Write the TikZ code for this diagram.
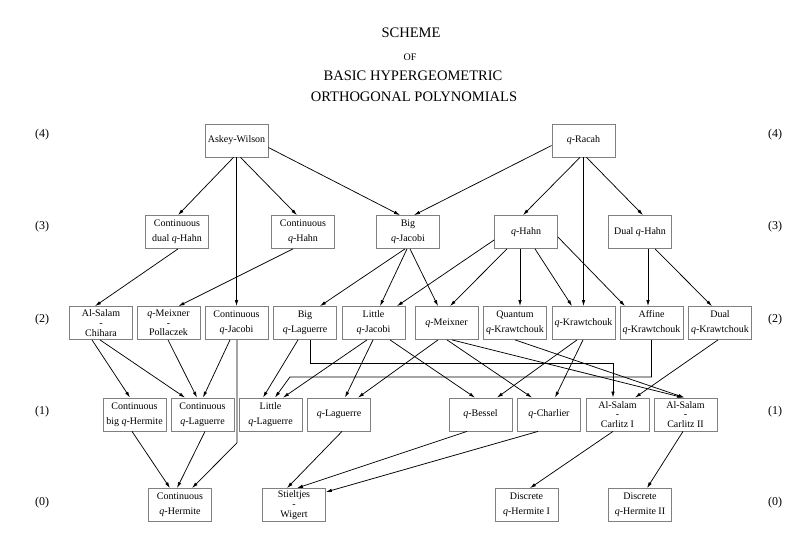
\documentclass[tikz,border=0pt]{standalone}
\usepackage{fontspec}
\setmainfont{Liberation Serif}
\usetikzlibrary{arrows.meta,calc}

\tikzset{every picture/.style={line width=0.75pt}}
\tikzset{
  famBox/.style={draw=gray, line width=0.6pt, minimum width=47.25pt, minimum height=24.75pt, inner sep=1pt, align=center, font=\fontsize{7.5}{11.25}\selectfont},
  levelLabel/.style={inner sep=0pt, font=\fontsize{9}{10}\selectfont},
  titleLine/.style={inner sep=0pt, font=\fontsize{10.9}{12}\selectfont},
  limitArrow/.style={line width=0.55pt, -{Latex[length=4.5pt,width=2.6pt]}},
}
\newcommand{\qvar}{\textit{q}}

\begin{document}
\begin{tikzpicture}[x=0.75pt,y=0.75pt,yscale=-1,xscale=1]
%set diagram left start at 0, and has height of 539
\path [fill=white] (0,0) rectangle (806,539);
\useasboundingbox (0,0) rectangle (806,539);

% Title
\node [titleLine] (tscheme) at (411,33) {SCHEME};
\node [inner sep=0pt, font=\fontsize{7.5}{8}\selectfont] (tof) at (410,57) {OF};
\node [titleLine] (tbasic) at (413,76) {BASIC HYPERGEOMETRIC};
\node [titleLine] (tortho) at (414,97) {ORTHOGONAL POLYNOMIALS};

% Level labels
\node [levelLabel] (lleft4) at (42,135) {(4)};
\node [levelLabel] (lleft3) at (42,227) {(3)};
\node [levelLabel] (lleft2) at (42,320) {(2)};
\node [levelLabel] (lleft1) at (42,412) {(1)};
\node [levelLabel] (lleft0) at (42,503) {(0)};
\node [levelLabel] (lright4) at (775,135) {(4)};
\node [levelLabel] (lright3) at (775,227) {(3)};
\node [levelLabel] (lright2) at (775,320) {(2)};
\node [levelLabel] (lright1) at (775,412) {(1)};
\node [levelLabel] (lright0) at (775,503) {(0)};

% Level 4
\node [famBox] (askeywilson) at (236.5,140.5) {Askey-Wilson};
\node [famBox] (qracah) at (583.5,140.5) {\qvar-Racah};

% Level 3
\node [famBox] (contdualqhahn) at (177,232) {Continuous\\dual \qvar-Hahn};
\node [famBox] (contqhahn) at (303,232) {Continuous\\\qvar-Hahn};
\node [famBox] (bigqjacobi) at (408,232) {Big\\\qvar-Jacobi};
\node [famBox] (qhahn) at (526,232) {\qvar-Hahn};
\node [famBox] (dualqhahn) at (640,232) {Dual \qvar-Hahn};

% Level 2
\node [famBox] (alsalamchihara) at (101,323) {Al-Salam\\[-4pt]-\\[-4pt]Chihara};
\node [famBox] (qmeixnerpollaczek) at (168.5,323) {\qvar-Meixner\\[-4pt]-\\[-4pt]Pollaczek};
\node [famBox] (contqjacobi) at (236.5,323) {Continuous\\\qvar-Jacobi};
\node [famBox] (bigqlaguerre) at (305,323) {Big\\\qvar-Laguerre};
\node [famBox] (littleqjacobi) at (373.5,323) {Little\\\qvar-Jacobi};
\node [famBox] (qmeixner) at (446.5,323) {\qvar-Meixner};
\node [famBox] (quantumqkrawtchouk) at (515,323) {Quantum\\\qvar-Krawtchouk};
\node [famBox] (qkrawtchouk) at (583.5,323) {\qvar-Krawtchouk};
\node [famBox] (affineqkrawtchouk) at (651.5,323) {Affine\\\qvar-Krawtchouk};
\node [famBox] (dualqkrawtchouk) at (720,323) {Dual\\\qvar-Krawtchouk};

% Level 1
\node [famBox] (contbigqhermite) at (134.5,414.5) {Continuous\\big \qvar-Hermite};
\node [famBox] (contqlaguerre) at (202.5,414.5) {Continuous\\\qvar-Laguerre};
\node [famBox] (littleqlaguerre) at (270.5,414.5) {Little\\\qvar-Laguerre};
\node [famBox] (qlaguerre) at (339,414.5) {\qvar-Laguerre};
\node [famBox] (qbessel) at (480.5,414.5) {\qvar-Bessel};
\node [famBox] (qcharlier) at (549,414.5) {\qvar-Charlier};
\node [famBox] (alsalamcarlitzI) at (617.5,414.5) {Al-Salam\\[-4pt]-\\[-4pt]Carlitz I};
\node [famBox] (alsalamcarlitzII) at (685.5,414.5) {Al-Salam\\[-4pt]-\\[-4pt]Carlitz II};

% Level 0
\node [famBox] (contqhermite) at (180,505) {Continuous\\\qvar-Hermite};
\node [famBox] (stieltjeswigert) at (294,505) {Stieltjes\\[-4pt]-\\[-4pt]Wigert};
\node [famBox] (discreteqhermiteI) at (526.5,505) {Discrete\\\qvar-Hermite I};
\node [famBox] (discreteqhermiteII) at (640,505) {Discrete\\\qvar-Hermite II};

%Straight Lines: level 4 to level 3
\draw [limitArrow] ($(askeywilson.south)+(-3,0)$) -- ($(contdualqhahn.north)+(1,0)$);
\draw [limitArrow] ($(askeywilson.south)+(4,0)$) -- ($(contqhahn.north)+(-6,0)$);
\draw [limitArrow] ($(askeywilson.east)+(0,7)$) -- ($(bigqjacobi.north)+(-8,0)$);
\draw [limitArrow] (askeywilson.south) -- (contqjacobi.north);
\draw [limitArrow] ($(qracah.west)+(0,5)$) -- ($(bigqjacobi.north)+(6,0)$);
\draw [limitArrow] ($(qracah.south)+(-3.5,0)$) -- ($(qhahn.north)+(-3,0)$);
\draw [limitArrow] (qracah.south) -- (qkrawtchouk.north);
\draw [limitArrow] ($(qracah.south)+(3,0)$) -- ($(dualqhahn.north)+(3,0)$);

%Straight Lines: level 3 to level 2
\draw [limitArrow] ($(contdualqhahn.south)+(1,0)$) -- ($(alsalamchihara.north)+(-6,0)$);
\draw [limitArrow] ($(contqhahn.south)+(-10,0)$) -- ($(qmeixnerpollaczek.north)+(10,0)$);
\draw [limitArrow] ($(bigqjacobi.south)+(-3,0)$) -- ($(bigqlaguerre.north)+(15,0)$);
\draw [limitArrow] ($(bigqjacobi.south)+(-1,0)$) -- ($(littleqjacobi.north)+(6.5,0)$);
\draw [limitArrow] ($(bigqjacobi.south)+(2,0)$) -- ($(qmeixner.north)+(-8.5,0)$);
\draw [limitArrow] ($(qhahn.west)+(0,8)$) -- ($(littleqjacobi.north)+(23.5,0)$);
\draw [limitArrow] ($(qhahn.south)+(-19,0)$) -- ($(qmeixner.north)+(3.5,0)$);
\draw [limitArrow] ($(qhahn.south)+(-6,0)$) -- ($(quantumqkrawtchouk.north)+(5,0)$);
\draw [limitArrow] ($(qhahn.south)+(9,0)$) -- ($(qkrawtchouk.north)+(-11.5,0)$);
\draw [limitArrow] ($(qhahn.east)+(0,5)$) -- ($(affineqkrawtchouk.north)+(-26.5,0)$);
\draw [limitArrow] ($(dualqhahn.south)+(8,0)$) -- ($(affineqkrawtchouk.north)+(-3.5,0)$);
\draw [limitArrow] ($(dualqhahn.south)+(15,0)$) -- ($(dualqkrawtchouk.north)+(-8,0)$);

%Straight Lines: level 2 to level 1
\draw [limitArrow] ($(alsalamchihara.south)+(-9,0)$) -- ($(contbigqhermite.north)+(-4.5,0)$);
\draw [limitArrow] ($(alsalamchihara.south)+(-1,0)$) -- ($(contqlaguerre.north)+(-17.5,0)$);
\draw [limitArrow] ($(qmeixnerpollaczek.south)+(-0.5,0)$) -- ($(contqlaguerre.north)+(-5.5,0)$);
\draw [limitArrow] ($(contqjacobi.south)+(-6.5,0)$) -- ($(contqlaguerre.north)+(0.5,0)$);
\draw [limitArrow] ($(bigqlaguerre.south)+(-7,0)$) -- ($(littleqlaguerre.north)+(-7.5,0)$);
\draw [limitArrow] ($(littleqjacobi.south)+(-6.5,0)$) -- ($(littleqlaguerre.north)+(12.5,0)$);
\draw [limitArrow] ($(littleqjacobi.south)+(-0.5,0)$) -- ($(qlaguerre.north)+(6,0)$);
\draw [limitArrow] ($(littleqjacobi.south)+(16.5,0)$) -- ($(qbessel.north)+(-5.5,0)$);
\draw [limitArrow] ($(qmeixner.south)+(-8.5,0)$) -- ($(qlaguerre.north)+(19,0)$);
\draw [limitArrow] ($(qmeixner.south)+(0.5,0)$) -- ($(qcharlier.north)+(-17,0)$);
\draw [limitArrow] ($(qmeixner.south)+(5.5,0)$) -- ($(alsalamcarlitzII.north)+(-2.5,0)$);
\draw [limitArrow] (quantumqkrawtchouk.south) -- ($(alsalamcarlitzII.north)+(-1,0)$);
\draw [limitArrow] ($(qkrawtchouk.south)+(-6.5,0)$) -- ($(qbessel.north)+(16.5,0)$);
\draw [limitArrow] ($(qkrawtchouk.south)+(-0.5,0)$) -- ($(qcharlier.north)+(6,0)$);
\draw [limitArrow] ($(dualqkrawtchouk.south)+(-2,0)$) -- ($(alsalamcarlitzI.north)+(17.5,0)$);

%Broken Lines
\draw [limitArrow] ($(bigqlaguerre.south)+(5,0)$) -- ++(0,23) -| ($(alsalamcarlitzI.north)+(-4.5,0)$);
\draw [limitArrow] (affineqkrawtchouk.south) -- ++(0,37) -- ++(-361.5,0) -- ($(littleqlaguerre.north)+(4.5,0)$);
\draw [limitArrow] ($(contqjacobi.south)+(0.5,0)$) -- ++(0,103) -- ($(contqhermite.north)+(12,0)$);

%Straight Lines: level 1 to level 0
\draw [limitArrow] ($(contbigqhermite.south)+(-2.5,0)$) -- ($(contqhermite.north)+(-10,0)$);
\draw [limitArrow] ($(contqlaguerre.south)+(2.5,0)$) -- ($(contqhermite.north)+(-3,0)$);
\draw [limitArrow] ($(qlaguerre.south)+(3,0)$) -- ($(stieltjeswigert.north)+(-7,0)$);
\draw [limitArrow] ($(qbessel.south)+(-13.5,0)$) -- ($(stieltjeswigert.north)+(3,0)$);
\draw [limitArrow] ($(qcharlier.south)+(-11,0)$) -- ($(stieltjeswigert.east)+(0,-13)$);
\draw [limitArrow] ($(alsalamcarlitzI.south)+(-4.5,0)$) -- ($(discreteqhermiteI.north)+(3.5,0)$);
\draw [limitArrow] ($(alsalamcarlitzII.south)+(-2.5,0)$) -- ($(discreteqhermiteII.north)+(7,0)$);

\end{tikzpicture}
\end{document}
